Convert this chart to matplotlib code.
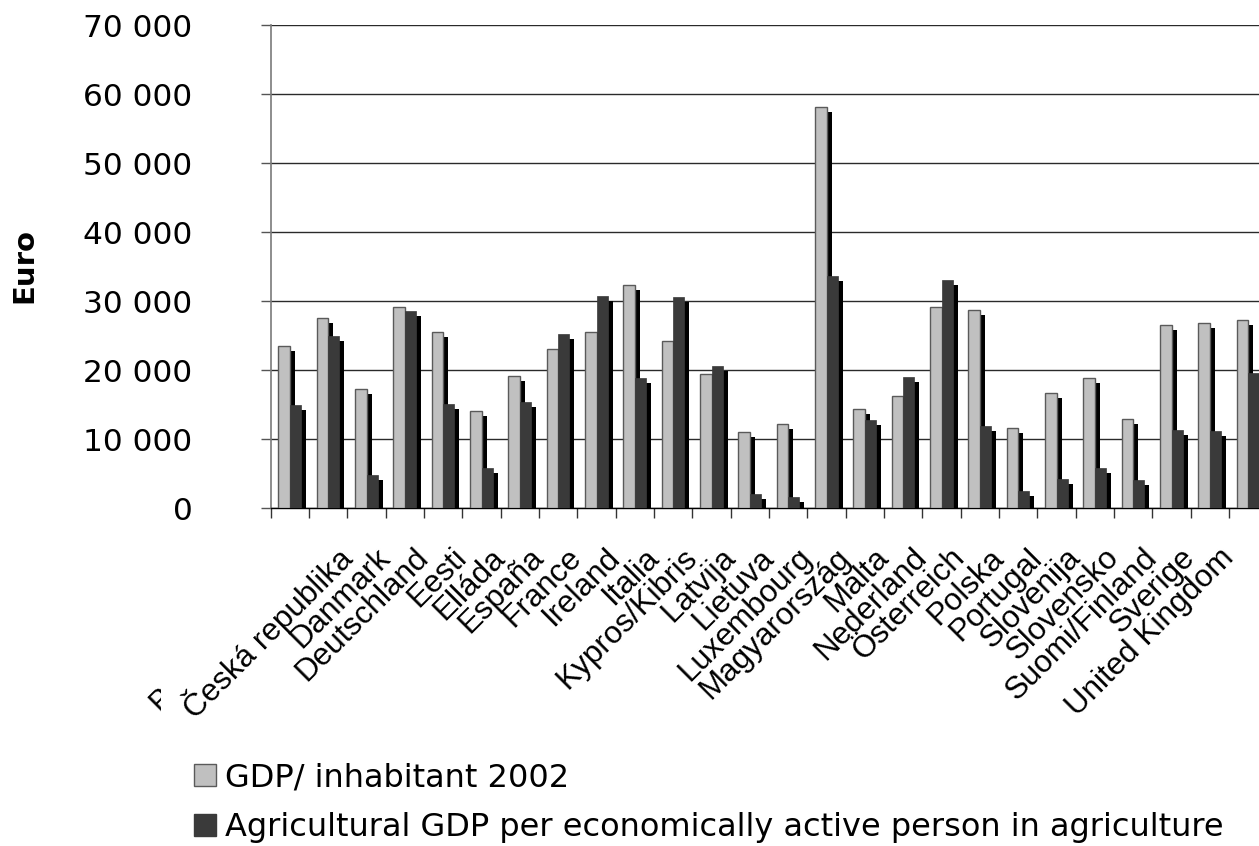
import matplotlib
matplotlib.use("Agg")
import numpy as np
import matplotlib.pyplot as plt
from matplotlib.patches import Patch
from matplotlib.transforms import Bbox, TransformedBbox

countries = ["", "Belgique/België", "Česká republika", "Danmark", "Deutschland",
             "Eesti", "Elláda", "España", "France", "Ireland", "Italia",
             "Kypros/Kibris", "Latvija", "Lietuva", "Luxembourg", "Magyarország",
             "Malta", "Nederland", "Österreich", "Polska", "Portugal", "Slovenija",
             "Slovensko", "Suomi/Finland", "Sverige", "United Kingdom"]
gdp_inhabitant = [23500, 27600, 17300, 29100, 25600, 14100, 19200, 23100, 25500,
                  32400, 24200, 19500, 11100, 12200, 58200, 14400, 16300, 29100,
                  28700, 11700, 16700, 18900, 12900, 26600, 26900, 27300]
agri_gdp_person = [15000, 25000, 4800, 28600, 15100, 5800, 15400, 25200, 30700,
                   18900, 30600, 20600, 2000, 1600, 33600, 12800, 19000, 33100,
                   11900, 2500, 4200, 5800, 4100, 11300, 11200, 19600]
yticks = [0, 10000, 20000, 30000, 40000, 50000, 60000, 70000]
series_names = ["GDP/ inhabitant 2002",
                "Agricultural GDP per economically active person in agriculture"]

light = "#c0c0c0"
dark = "#3a3a3a"

fig = plt.figure(figsize=(12.59, 8.46), dpi=100)
ax = fig.add_axes([0.2150, 0.3992, 0.7917, 0.5709])

x = np.arange(len(countries))
w1, w2 = 0.30, 0.29
# drop shadow: ~5 px right and 5 px down
sx, sy = 0.13, 725
g = np.array(gdp_inhabitant)
a = np.array(agri_gdp_person)
ax.bar(x - w1 / 2 + sx, g - sy, width=w1, color="black", zorder=2)
ax.bar(x - w1 / 2, g, width=w1, color=light, edgecolor="#5a5a5a",
       linewidth=1.0, zorder=3)
ax.bar(x + w2 / 2 + sx, a - sy, width=w2, color="black", zorder=4)
ax.bar(x + w2 / 2, a, width=w2, color=dark, edgecolor=dark,
       linewidth=0.5, zorder=5)

ax.set_xlim(-0.5, len(countries) - 0.5)
ax.set_ylim(0, 70000)
ax.set_yticks(yticks)
ax.set_yticklabels([f"{v:,}".replace(",", " ") for v in yticks],
                   fontsize=22.5, family="DejaVu Sans")
ax.yaxis.grid(True, color="#2a2a2a", linewidth=1.0)
ax.set_axisbelow(True)
ax.tick_params(axis="y", length=7.2, width=1, color="#555555", pad=49)

ax.set_xticks(np.arange(-0.5, len(countries), 1.0))
ax.set_xticklabels([])
ax.tick_params(axis="x", length=7.2, width=1, color="#333333")

for s in ["top", "right"]:
    ax.spines[s].set_visible(False)
ax.spines["left"].set_color("#7a7a7a")
ax.spines["left"].set_linewidth(1.2)
ax.spines["bottom"].set_color("black")
ax.spines["bottom"].set_linewidth(1.0)

# rotated category names below each group
for i, name in enumerate(countries):
    if not name:
        continue
    t = ax.text(i - 0.5, -45 / 483, name, rotation=45, rotation_mode="anchor",
                ha="right", va="center", fontsize=22.6, family="Liberation Sans",
                transform=ax.get_xaxis_transform())
    if i == 1:
        # only the first letter of this one shows at the far left
        clip = TransformedBbox(Bbox([[0, 0], [161 / 1259, 1]]), fig.transFigure)
        t.set_clip_box(clip)
        t.set_clip_on(True)

fig.text(24 / 1259, 1 - 265 / 846, "Euro", rotation=90, ha="center",
         va="center", fontsize=21, fontweight="bold", family="DejaVu Sans")

handles = [Patch(facecolor=light, edgecolor="#5a5a5a", linewidth=1),
           Patch(facecolor=dark, edgecolor=dark)]
fig.legend(handles, series_names, loc="upper left",
           bbox_to_anchor=(194 / 1259, 1 - 762 / 846), frameon=False,
           prop={"family": "DejaVu Sans", "size": 23}, handlelength=0.68,
           handleheight=0.68, handletextpad=0.3, labelspacing=0.6,
           borderpad=0, borderaxespad=0)

fig.savefig("out.png", dpi=100)
